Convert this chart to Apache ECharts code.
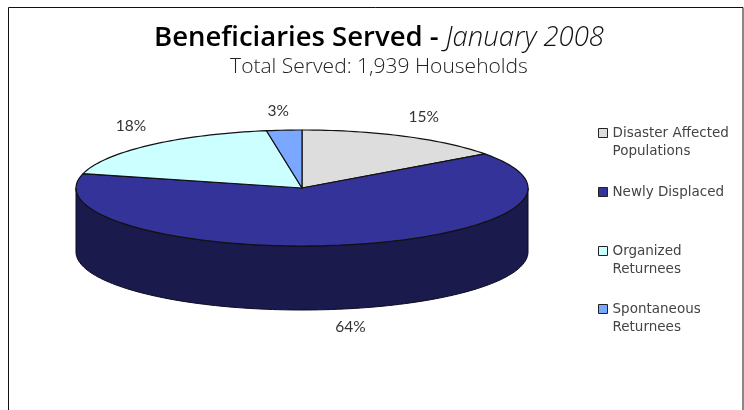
<!DOCTYPE html>
<html>
<head>
<meta charset="utf-8">
<style>html,body{margin:0;padding:0;background:#fff}#c{width:744px;height:410px}</style>
<script src="https://cdn.jsdelivr.net/npm/echarts@6/dist/echarts.min.js"></script>
</head>
<body>
<div id="c"></div>
<script>
const categories = ['Disaster Affected\nPopulations', 'Newly Displaced', 'Organized\nReturnees', 'Spontaneous\nReturnees'];
const shares = [15, 64, 18.49, 2.51];
const colors = ['#DDDDDD', '#333399', '#CCFFFF', '#7AA7FF'];
const wallColors = ['#6E6E6E', '#1A1A4D', '#668080', '#3D5480'];
const titleMain = 'Beneficiaries Served - ';
const titleDate = 'January 2008';
const subtitle = 'Total Served: 1,939 Households';

const CX = 302, CY = 188, RX = 226, RY = 58, DEPTH = 64;
const labelOffsets = [[19, -19], [6, 18], [-19, -19], [-6, -19]];
const legendTops = [106, 183, 224, 282];
const total = shares.reduce((a, b) => a + b, 0);

function pt(deg, dy) {
  const r = deg * Math.PI / 180;
  return [CX + RX * Math.sin(r), CY - RY * Math.cos(r) + (dy || 0)];
}
function arc(a0, a1, dy) {
  const out = [], n = Math.max(2, Math.ceil(Math.abs(a1 - a0) / 1.5));
  for (let i = 0; i <= n; i++) out.push(pt(a0 + (a1 - a0) * i / n, dy));
  return out;
}
function makeRender(idx) {
  return function (params, api) {
    const before = shares.slice(0, idx).reduce((a, b) => a + b, 0);
    const a0 = before / total * 360;
    const a1 = a0 + api.value(0) / total * 360;
    const children = [];
    const w0 = Math.max(a0, 90), w1 = Math.min(a1, 270);
    if (w1 > w0) {
      children.push({
        type: 'polygon',
        shape: { points: arc(w0, w1, 0).concat(arc(w1, w0, DEPTH)) },
        style: { fill: wallColors[idx], stroke: '#0a0a20', lineWidth: 1 }
      });
    }
    children.push({
      type: 'polygon',
      shape: { points: [[CX, CY]].concat(arc(a0, a1, 0)) },
      style: { fill: api.visual('color'), stroke: '#111', lineWidth: 1.2, lineJoin: 'round' }
    });
    const mid = (a0 + a1) / 2;
    const inFront = mid > 90 && mid < 270;
    const p = pt(mid, inFront ? DEPTH : 0);
    children.push({
      type: 'text',
      style: {
        text: Math.round(api.value(0)) + '%',
        x: p[0] + labelOffsets[idx][0],
        y: p[1] + labelOffsets[idx][1],
        align: 'center', verticalAlign: 'middle',
        fill: '#333', font: '15.5px Lato'
      }
    });
    return { type: 'group', children };
  };
}

const chart = echarts.init(document.getElementById('c'), null, { renderer: 'canvas' });
chart.setOption({
  animation: false,
  backgroundColor: '#fff',
  title: {
    left: 374, top: 19, textAlign: 'center',
    text: '{b|' + titleMain + '}{i|' + titleDate + '}',
    textStyle: {
      rich: {
        b: { fontFamily: 'Open Sans', fontWeight: 600, fontSize: 27.5, color: '#000' },
        i: { fontFamily: 'Open Sans', fontStyle: 'italic', fontWeight: 300, fontSize: 27.5, color: '#111' }
      }
    },
    subtext: subtitle,
    subtextStyle: { fontFamily: 'Open Sans', fontWeight: 300, fontSize: 21, color: '#222' },
    itemGap: 5
  },
  legend: categories.map((name, i) => ({
    data: [name],
    orient: 'vertical',
    left: 598,
    top: legendTops[i],
    padding: 0,
    itemWidth: 9,
    itemHeight: 9,
    itemGap: 0,
    icon: 'rect',
    selectedMode: false,
    itemStyle: { borderColor: '#222', borderWidth: 1 },
    formatter: n => (n.includes('\n') ? '\n' : '') + n,
    textStyle: { fontFamily: 'DejaVu Sans', fontSize: 13.5, color: '#444', lineHeight: 18 }
  })),
  graphic: [{
    type: 'rect',
    shape: { x: 8.5, y: 7.5, width: 734.5, height: 430 },
    style: { fill: 'none', stroke: '#111', lineWidth: 1 },
    silent: true
  }],
  series: categories.map((name, i) => ({
    type: 'custom',
    name,
    coordinateSystem: 'none',
    itemStyle: { color: colors[i] },
    renderItem: makeRender(i),
    data: [[shares[i]]],
    silent: true
  }))
});
</script>
</body>
</html>
